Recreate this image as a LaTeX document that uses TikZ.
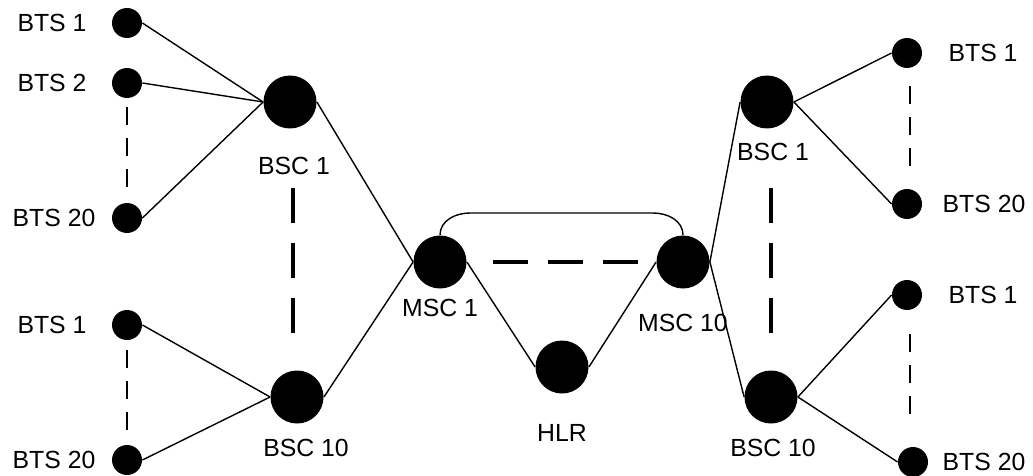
\documentclass[tikz,border=0pt]{standalone}
\usepackage{fontspec}
\setmainfont{Liberation Sans}

\begin{document}
\begin{tikzpicture}[x=0.5pt, y=-0.5pt, every node/.style={font=\fontsize{12.4}{14}\selectfont},
  bts/.style={circle, fill=black, minimum size=15pt, inner sep=0pt},
  hub/.style={circle, fill=black, minimum size=26.5pt, inner sep=0pt},
  link/.style={line width=0.7pt},
  btsdash/.style={line width=1.3pt, dash pattern=on 9pt off 6.5pt},
  hubdash/.style={line width=2pt, dash pattern=on 17.5pt off 10pt}]
  \fill[white] (0,0) rectangle (1033,476);
  \useasboundingbox (0,0) rectangle (1033,476);

  \node[bts] (ltA1)  at (127,23)  {};
  \node[bts] (ltA2)  at (127,83)  {};
  \node[bts] (ltA20) at (127,218) {};
  \node[bts] (lbA1)  at (127,325) {};
  \node[bts] (lbA20) at (127,460) {};
  \node[hub] (lbsc1)  at (290,102) {};
  \node[hub] (lbsc10) at (297,397) {};
  \node[hub] (msc1)   at (440,262) {};
  \node[hub] (msc10)  at (683,262) {};
  \node[hub] (hlr)    at (562,367) {};
  \node[hub] (rbsc1)  at (767,102) {};
  \node[hub] (rbsc10) at (771,397) {};
  \node[bts] (rtA1)  at (907,53)  {};
  \node[bts] (rtA20) at (907,204) {};
  \node[bts] (rbA1)  at (907,295) {};
  \node[bts] (rbA20) at (913,462) {};

  \node (ltA1txt)  at (52,23)  {BTS 1};
  \node (ltA2txt)  at (52,83)  {BTS 2};
  \node (ltA20txt) at (54,218) {BTS 20};
  \node (lbA1txt)  at (52,325) {BTS 1};
  \node (lbA20txt) at (54,460) {BTS 20};
  \node (lbsc1txt)  at (294,166) {BSC 1};
  \node (lbsc10txt) at (306,448) {BSC 10};
  \node (msc1txt)   at (440,308) {MSC 1};
  \node (msc10txt)  at (683,323) {MSC 10};
  \node (hlrtxt)    at (562,433) {HLR};
  \node (rbsc1txt)  at (773,152) {BSC 1};
  \node (rbsc10txt) at (773,448) {BSC 10};
  \node (rtA1txt)  at (983,53)  {BTS 1};
  \node (rtA20txt) at (984,204) {BTS 20};
  \node (rbA1txt)  at (983,295) {BTS 1};
  \node (rbA20txt) at (984,462) {BTS 20};

  \draw[link] (ltA1.east) -- (lbsc1.west);
  \draw[link] (ltA2.east) -- (lbsc1.west);
  \draw[link] (ltA20.east) -- (lbsc1.west);
  \draw[link] (lbA1.east) -- (lbsc10.west);
  \draw[link] (lbA20.east) -- (lbsc10.west);
  \draw[link] (lbsc1.east) -- (msc1.west);
  \draw[link] (lbsc10.east) -- (msc1.west);
  \draw[link] (msc1.east) -- (hlr.west);
  \draw[link] (hlr.east) -- (msc10.west);
  \draw[link] (msc10.east) -- (rbsc1.west);
  \draw[link] (msc10.east) -- (rbsc10.west);
  \draw[link] (rbsc1.east) -- (rtA1.west);
  \draw[link] (rbsc1.east) -- (rtA20.west);
  \draw[link] (rbsc10.east) -- (rbA1.west);
  \draw[link] (rbsc10.east) -- (rbA20.west);

  \coordinate (arcL) at (470,213);
  \coordinate (arcR) at (653,213);
  \draw[link] (msc1.north) to[out=90, in=180] (arcL) -- (arcR) to[out=0, in=90] (msc10.north);

  \draw[btsdash, shorten <=4.5pt, shorten >=8pt] (ltA2.south) -- (ltA20.north);
  \draw[btsdash, shorten <=5pt, shorten >=7.5pt] (lbA1.south) -- (lbA20.north);
  \draw[btsdash, shorten <=9pt, shorten >=11.5pt] ([xshift=1.5pt]rtA1.south) -- ([xshift=1.5pt]rtA20.north);
  \draw[btsdash, shorten <=12pt, shorten >=16pt] ([xshift=1.5pt]rbA1.south) -- ([xshift=-1.5pt]rbA20.north);

  \draw[hubdash] (293,188) -- (293,333);
  \draw[hubdash] (771,188) -- (771,333);
  \draw[hubdash] (493,262) -- (640,262);
\end{tikzpicture}
\end{document}
